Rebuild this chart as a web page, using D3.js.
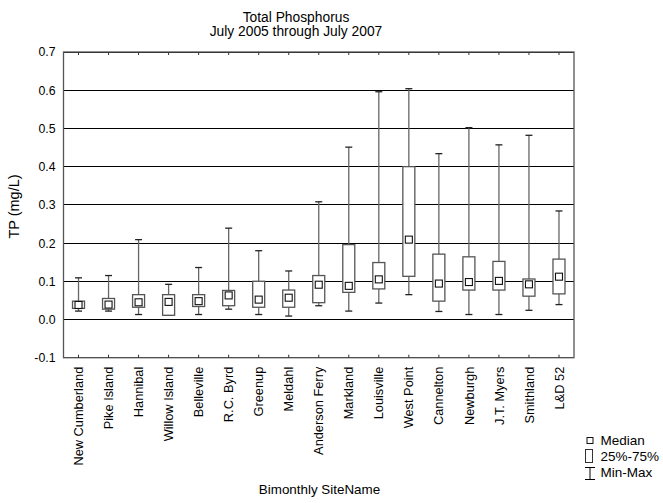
<!DOCTYPE html>
<html>
<head>
<meta charset="utf-8">
<script src="https://cdn.jsdelivr.net/npm/d3@7"></script>
<style>
  html, body { margin: 0; padding: 0; background: #fff; }
  svg text { font-family: "Liberation Sans", Arial, sans-serif; fill: #000; }
</style>
</head>
<body>
<svg id="chart" width="663" height="503"></svg>
<script>
const sites = ["New Cumberland","Pike Island","Hannibal","Willow Island","Belleville","R.C. Byrd","Greenup","Meldahl","Anderson Ferry","Markland","Louisville","West Point","Cannelton","Newburgh","J.T. Myers","Smithland","L&D 52"];
const minVals    = [0.022,0.022,0.013,0.011,0.013,0.027,0.013,0.009,0.036,0.022,0.043,0.065,0.021,0.013,0.013,0.024,0.039];
const q1Vals     = [0.029,0.027,0.032,0.011,0.034,0.036,0.032,0.032,0.044,0.071,0.080,0.113,0.048,0.077,0.077,0.061,0.067];
const medianVals = [0.038,0.039,0.045,0.046,0.048,0.063,0.052,0.057,0.091,0.088,0.105,0.209,0.094,0.098,0.101,0.092,0.112];
const q3Vals     = [0.048,0.055,0.065,0.065,0.065,0.076,0.100,0.077,0.115,0.196,0.149,0.400,0.171,0.164,0.152,0.106,0.158];
const maxVals    = [0.109,0.115,0.209,0.092,0.136,0.239,0.180,0.127,0.308,0.451,0.596,0.604,0.434,0.502,0.457,0.482,0.284];
const yTicks = [-0.1,0.0,0.1,0.2,0.3,0.4,0.5,0.6,0.7];
const titleLines = ["Total Phosphorus","July 2005 through July 2007"];
const xLabel = "Bimonthly SiteName";
const yLabel = "TP (mg/L)";
const legendItems = ["Median","25%-75%","Min-Max"];

const data = sites.map((s,i)=>({site:s,min:minVals[i],q1:q1Vals[i],med:medianVals[i],q3:q3Vals[i],max:maxVals[i]}));

const svg = d3.select("#chart");
const L = 63.5, R = 574, T = 52, B = 357.7;
const x = d3.scaleBand().domain(sites).range([L,R]).padding(0);
const y = d3.scaleLinear().domain([-0.1,0.7]).range([B,T]);
const cx = d => x(d) + x.bandwidth()/2;

// gridlines
svg.append("g").selectAll("line").data(yTicks).join("line")
  .attr("x1",L).attr("x2",R).attr("y1",d=>y(d)).attr("y2",d=>y(d))
  .attr("stroke","#000").attr("stroke-width",1).attr("shape-rendering","crispEdges");

// frame
svg.append("rect").attr("x",L).attr("y",T).attr("width",R-L).attr("height",B-T)
  .attr("fill","none").attr("stroke","#555").attr("stroke-width",1.3);

// y axis labels
const yAxis = d3.axisLeft(y).tickValues(yTicks).tickSize(0).tickPadding(8).tickFormat(d=>d.toFixed(1));
const gy = svg.append("g").attr("transform",`translate(${L},0)`).call(yAxis);
gy.select(".domain").remove();
gy.selectAll("text").style("font-size","12.3px").style("font-family","Liberation Sans, Arial, sans-serif").attr("fill","#000");

// x axis (bottom) with inward ticks
const xAxis = d3.axisBottom(x).tickSize(-3).tickPadding(0);
const gx = svg.append("g").attr("transform",`translate(0,${B})`).call(xAxis);
gx.select(".domain").remove();
gx.selectAll(".tick line").attr("stroke","#333");
gx.selectAll("text")
  .style("font-size","12.8px").style("font-family","Liberation Sans, Arial, sans-serif").attr("fill","#000")
  .attr("transform","rotate(-90)")
  .attr("text-anchor","end")
  .attr("x",-9).attr("y",0).attr("dy","0.36em");

// top ticks
const xTop = d3.axisTop(x).tickSize(-3).tickFormat("");
const gt = svg.append("g").attr("transform",`translate(0,${T})`).call(xTop);
gt.select(".domain").remove();
gt.selectAll(".tick line").attr("stroke","#333");

// boxes
const bw = 12, cap = 7, ms = 7;
const g = svg.append("g").selectAll("g").data(data).join("g");
g.append("line").attr("x1",d=>cx(d.site)).attr("x2",d=>cx(d.site))
  .attr("y1",d=>y(d.max)).attr("y2",d=>y(d.min)).attr("stroke","#666").attr("stroke-width",1.3);
g.append("line").attr("x1",d=>cx(d.site)-cap/2).attr("x2",d=>cx(d.site)+cap/2)
  .attr("y1",d=>y(d.max)).attr("y2",d=>y(d.max)).attr("stroke","#222").attr("stroke-width",1.3);
g.append("line").attr("x1",d=>cx(d.site)-cap/2).attr("x2",d=>cx(d.site)+cap/2)
  .attr("y1",d=>y(d.min)).attr("y2",d=>y(d.min)).attr("stroke","#222").attr("stroke-width",1.3);
g.append("rect").attr("x",d=>cx(d.site)-bw/2).attr("width",bw)
  .attr("y",d=>y(d.q3)).attr("height",d=>Math.max(0.5,y(d.q1)-y(d.q3)))
  .attr("fill","#fff").attr("stroke","#555").attr("stroke-width",1.3);
g.append("rect").attr("x",d=>cx(d.site)-ms/2).attr("width",ms)
  .attr("y",d=>y(d.med)-ms/2).attr("height",ms)
  .attr("fill","#fff").attr("stroke","#111").attr("stroke-width",1.1);

// titles
svg.append("g").selectAll("text").data(titleLines).join("text")
  .attr("x",296).attr("y",(d,i)=>22.3+i*14).attr("text-anchor","middle")
  .style("font-size","13.8px").text(d=>d);
svg.append("text").attr("x",319.5).attr("y",494).attr("text-anchor","middle")
  .style("font-size","13.4px").text(xLabel);
svg.append("text").attr("transform","translate(19,206.5) rotate(-90)").attr("text-anchor","middle")
  .style("font-size","14.5px").text(yLabel);

// legend
const lg = svg.append("g");
lg.append("rect").attr("x",587).attr("y",437.5).attr("width",6).attr("height",6)
  .attr("fill","#fff").attr("stroke","#111").attr("stroke-width",1);
lg.append("rect").attr("x",585.5).attr("y",449.5).attr("width",7).attr("height",13)
  .attr("fill","#fff").attr("stroke","#333").attr("stroke-width",1);
lg.append("line").attr("x1",590).attr("x2",590).attr("y1",467.5).attr("y2",479.5).attr("stroke","#000").attr("stroke-width",1);
lg.append("line").attr("x1",585).attr("x2",595).attr("y1",467.5).attr("y2",467.5).attr("stroke","#000").attr("stroke-width",1);
lg.append("line").attr("x1",585).attr("x2",595).attr("y1",479.5).attr("y2",479.5).attr("stroke","#000").attr("stroke-width",1);
lg.selectAll("text").data(legendItems).join("text")
  .attr("x",600.5).attr("y",(d,i)=>445+i*16).style("font-size","13.5px").text(d=>d);
</script>
</body>
</html>
